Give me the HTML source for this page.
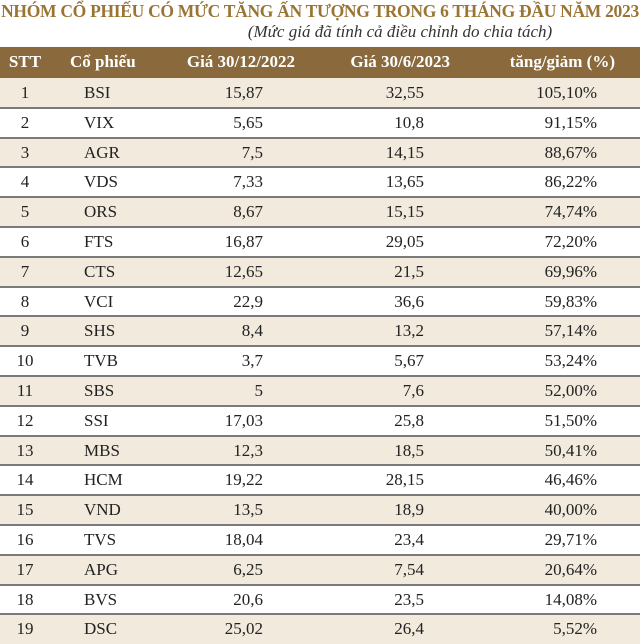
<!DOCTYPE html>
<html><head><meta charset="utf-8"><style>
body{margin:0;width:640px;height:644px;overflow:hidden;background:#fff;font-family:"Liberation Serif","Noto Serif CJK SC",serif;position:relative}
.t{position:absolute;left:0;width:640px;text-align:center;white-space:nowrap}
#title{top:1px;font-weight:bold;font-size:17.5px;color:#9a7433;letter-spacing:-0.3px}
#sub{top:22px;font-style:italic;font-size:17px;color:#333;left:160px;width:480px}
.row{position:absolute;left:0;width:640px;height:30px;font-size:17px;color:#222}
.row span{position:absolute;top:5px;white-space:nowrap}
.hdr{background:#8a6a3c;color:#fff;font-weight:bold;top:47px;height:31px}
.c0{left:0;width:50px;text-align:center}
.c1{left:84px}
.hdr .c1{left:70px}
.c2{right:377px}.c3{right:216px}.c4{right:43px}
.hdr .c2{right:345px}.hdr .c3{right:190px}.hdr .c4{right:25px}
.line{position:absolute;left:0;width:640px;height:2px;background:#7a7a7a}
</style></head><body>
<div class="t" id="title">NHÓM CỔ PHIẾU CÓ MỨC TĂNG ẤN TƯỢNG TRONG 6 THÁNG ĐẦU NĂM 2023</div>
<div class="t" id="sub">(Mức giá đã tính cả điều chỉnh do chia tách)</div>
<div class="row hdr">
<span class="c0">STT</span>
<span class="c1">Cổ phiếu</span>
<span class="c2">Giá 30/12/2022</span>
<span class="c3">Giá 30/6/2023</span>
<span class="c4">tăng/giảm (%)</span>
</div>
<div id="body"></div>
<script>
const tickers=["BSI","VIX","AGR","VDS","ORS","FTS","CTS","VCI","SHS","TVB","SBS","SSI","MBS","HCM","VND","TVS","APG","BVS","DSC"];
const price2022=["15,87","5,65","7,5","7,33","8,67","16,87","12,65","22,9","8,4","3,7","5","17,03","12,3","19,22","13,5","18,04","6,25","20,6","25,02"];
const price2023=["32,55","10,8","14,15","13,65","15,15","29,05","21,5","36,6","13,2","5,67","7,6","25,8","18,5","28,15","18,9","23,4","7,54","23,5","26,4"];
const changes=["105,10%","91,15%","88,67%","86,22%","74,74%","72,20%","69,96%","59,83%","57,14%","53,24%","52,00%","51,50%","50,41%","46,46%","40,00%","29,71%","20,64%","14,08%","5,52%"];
const b=document.getElementById('body');
for(let i=0;i<tickers.length;i++){
const top=78+i*29.8;
const r=document.createElement('div');


r.className='row';r.style.top=top+'px';r.style.height='29.8px';
r.style.background=i%2===0?'#f1eadd':'#fff';
const vals=[String(i+1),tickers[i],price2022[i],price2023[i],changes[i]];
const names=['cell-stt','cell-stock','cell-price-2022','cell-price-2023','cell-change'];
vals.forEach((v,j)=>{const s=document.createElement('span');s.className='c'+j;s.textContent=v;


r.appendChild(s);});
b.appendChild(r);
if(i>0){const l=document.createElement('div');l.className='line';l.style.top=(top-1)+'px';


b.appendChild(l);}
}
</script>
</body></html>
